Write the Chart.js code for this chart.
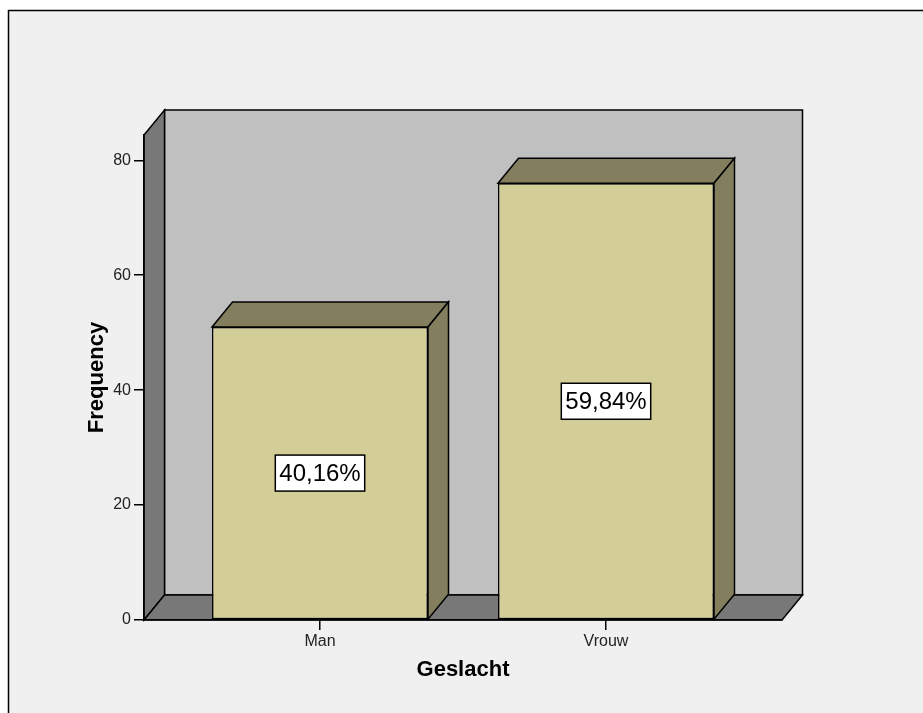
<!DOCTYPE html>
<html>
<head>
<meta charset="utf-8">
<script src="https://cdn.jsdelivr.net/npm/chart.js@4/dist/chart.umd.min.js"></script>
<style>
  html, body { margin: 0; padding: 0; background: #ffffff; }
  canvas { display: block; }
</style>
</head>
<body>
<canvas id="c" width="923" height="713"></canvas>
<script>
// ---- data ----
const categories = ['Man', 'Vrouw'];
const counts = [51, 76];
const percentLabels = ['40,16%', '59,84%'];
const yTicks = [0, 20, 40, 60, 80];
const yTitle = 'Frequency';
const xTitle = 'Geslacht';

// ---- styles ----
const FONT = '"Liberation Sans", Arial, Helvetica, sans-serif';
const DX = 20.5, DY = -25;
const C_BG = '#f0f0f0', C_WALL = '#c0c0c0', C_SIDE = '#787878';
const C_FRONT = '#d3ce98', C_TOP = '#827e5e';

function poly(ctx, pts, fill) {
  ctx.beginPath();
  ctx.moveTo(pts[0][0], pts[0][1]);
  for (let i = 1; i < pts.length; i++) ctx.lineTo(pts[i][0], pts[i][1]);
  ctx.closePath();
  ctx.fillStyle = fill;
  ctx.fill();
  ctx.stroke();
}

const threeD = {
  id: 'threeD',
  beforeDraw(chart) {
    const ctx = chart.ctx;
    const a = chart.chartArea;
    ctx.save();
    ctx.fillStyle = '#ffffff';
    ctx.fillRect(0, 0, chart.width, chart.height);
    ctx.fillStyle = C_BG;
    ctx.fillRect(8.5, 10.5, chart.width + 10, chart.height + 10);
    ctx.strokeStyle = '#000';
    ctx.lineWidth = 1.5;
    ctx.strokeRect(8.5, 10.5, chart.width + 10, chart.height + 10);
    ctx.lineJoin = 'miter';
    ctx.lineWidth = 1.5;
    // back wall
    poly(ctx, [[a.left + DX, a.top + DY], [a.right + DX, a.top + DY], [a.right + DX, a.bottom + DY], [a.left + DX, a.bottom + DY]], C_WALL);
    // left side wall
    poly(ctx, [[a.left, a.top], [a.left + DX, a.top + DY], [a.left + DX, a.bottom + DY], [a.left, a.bottom]], C_SIDE);
    // floor
    poly(ctx, [[a.left, a.bottom], [a.right, a.bottom], [a.right + DX, a.bottom + DY], [a.left + DX, a.bottom + DY]], C_SIDE);
    ctx.restore();
  },
  afterDatasetsDraw(chart) {
    const ctx = chart.ctx;
    const meta = chart.getDatasetMeta(0);
    ctx.save();
    ctx.strokeStyle = '#000';
    ctx.lineWidth = 1.5;
    ctx.lineJoin = 'miter';
    meta.data.forEach((bar, i) => {
      const p = bar.getProps(['x', 'y', 'base', 'width'], true);
      const x0 = p.x - p.width / 2, x1 = p.x + p.width / 2;
      const yt = p.y, yb = p.base;
      poly(ctx, [[x0, yt], [x0 + DX, yt + DY], [x1 + DX, yt + DY], [x1, yt]], C_TOP);
      poly(ctx, [[x1, yt], [x1 + DX, yt + DY], [x1 + DX, yb + DY], [x1, yb]], C_TOP);
      // percentage label
      const txt = percentLabels[i];
      ctx.font = '24px ' + FONT;
      const tw = ctx.measureText(txt).width;
      const cx = p.x, cy = (yt + yb) / 2;
      const bw = tw + 8, bh = 36;
      ctx.fillStyle = '#ffffff';
      ctx.fillRect(cx - bw / 2, cy - bh / 2, bw, bh);
      ctx.strokeRect(cx - bw / 2, cy - bh / 2, bw, bh);
      ctx.fillStyle = '#000';
      ctx.textAlign = 'center';
      ctx.textBaseline = 'middle';
      ctx.fillText(txt, cx, cy + 1);
    });
    ctx.restore();
  }
};

const unit = 286, areaW = 638;
const span = areaW / unit;
const xMin = -(span - 1) / 2, xMax = 1 + (span - 1) / 2;

new Chart(document.getElementById('c'), {
  type: 'bar',
  data: {
    datasets: [{
      data: counts.map((v, i) => ({ x: i, y: v })),
      backgroundColor: C_FRONT,
      borderColor: '#000',
      borderWidth: 1.5,
      borderSkipped: false,
      barPercentage: 216 / 286,
      categoryPercentage: 1
    }]
  },
  options: {
    responsive: false,
    animation: false,
    devicePixelRatio: 1,
    layout: { padding: { top: 135, right: 141, left: 0, bottom: 0 } },
    plugins: { legend: { display: false }, tooltip: { enabled: false } },
    scales: {
      x: {
        type: 'linear',
        offset: false,
        min: xMin,
        max: xMax,
        afterBuildTicks: s => { s.ticks = categories.map((_, i) => ({ value: i })); },
        afterFit: s => { s.height = 93; },
        grid: { offset: false, drawOnChartArea: false, drawTicks: true, tickLength: 10, color: '#000', lineWidth: 1.5 },
        border: { display: true, color: '#000', width: 1.5 },
        ticks: {
          autoSkip: false,
          maxRotation: 0,
          padding: 2,
          color: '#222',
          font: { family: FONT, size: 16 },
          callback: v => categories[v]
        },
        title: {
          display: true,
          text: xTitle,
          color: '#000',
          font: { family: FONT, size: 22, weight: 'bold', lineHeight: 1.2 },
          padding: { top: 0, bottom: 30 }
        }
      },
      y: {
        min: 0,
        max: 84.4,
        afterBuildTicks: s => { s.ticks = yTicks.map(v => ({ value: v })); },
        afterFit: s => { s.width = 144; },
        grid: { drawOnChartArea: false, drawTicks: true, tickLength: 10, color: '#000', lineWidth: 1.5 },
        border: { display: true, color: '#000', width: 1.5 },
        ticks: {
          padding: 3,
          color: '#222',
          font: { family: FONT, size: 16 }
        },
        title: {
          display: true,
          text: yTitle,
          color: '#000',
          font: { family: FONT, size: 22, weight: 'bold', lineHeight: 1.2 },
          padding: { top: 83.5, bottom: 0 }
        }
      }
    }
  },
  plugins: [threeD]
});
</script>
</body>
</html>
